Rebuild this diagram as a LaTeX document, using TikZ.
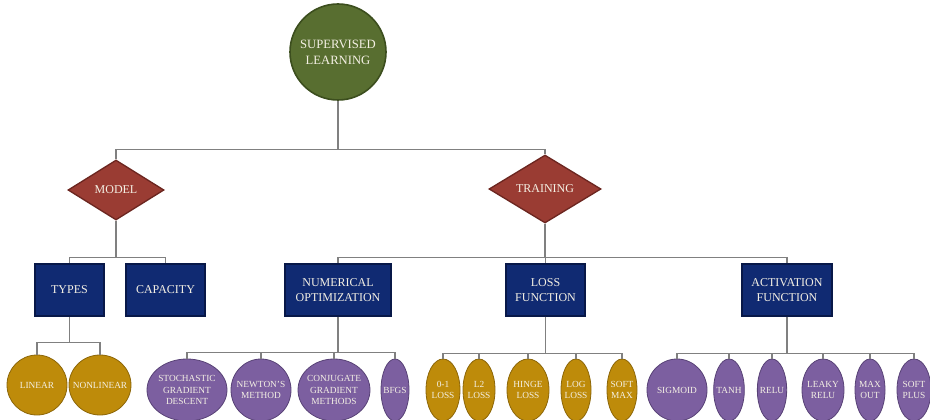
\documentclass[tikz,border=0pt]{standalone}
\usepackage{fontspec}
\setmainfont{Liberation Serif}
\usepackage{xcolor}
\usepackage{tikz}
\usetikzlibrary{shapes.geometric}

\definecolor{olive}{RGB}{88,110,48}
\definecolor{oliveedge}{RGB}{60,78,30}
\definecolor{brick}{RGB}{154,60,51}
\definecolor{brickedge}{RGB}{108,38,32}
\definecolor{navy}{RGB}{16,42,114}
\definecolor{navyedge}{RGB}{8,24,72}
\definecolor{gold}{RGB}{190,139,10}
\definecolor{goldedge}{RGB}{140,102,8}
\definecolor{lilac}{RGB}{124,95,160}
\definecolor{lilacedge}{RGB}{88,66,118}
\definecolor{ink}{RGB}{244,240,228}
\definecolor{wire}{RGB}{128,128,128}

\begin{document}
\begin{tikzpicture}[x=0.75pt, y=-0.75pt,
  root/.style={circle, draw=oliveedge, line width=1.2pt, fill=olive, text=ink,
               align=center, font=\fontsize{9.5}{12}\selectfont,
               minimum size=72pt, inner sep=0pt},
  dec/.style={diamond, draw=brickedge, line width=1pt, fill=brick, text=ink,
              align=center, font=\fontsize{9}{11}\selectfont, inner sep=0pt},
  box/.style={draw=navyedge, line width=1.2pt, fill=navy, text=ink,
              align=center, font=\fontsize{9}{11.5}\selectfont,
              minimum height=39pt, inner sep=1pt},
  leaf/.style={ellipse, line width=0.6pt, text=ink, align=center,
               font=\fontsize{7}{8.8}\selectfont, inner xsep=-4pt,
               inner ysep=0pt},
  gleaf/.style={leaf, draw=goldedge, fill=gold},
  pleaf/.style={leaf, draw=lilacedge, fill=lilac},
  link/.style={draw=wire, line width=0.8pt}
]
\path[use as bounding box] (0,0) rectangle (930,420);

% top levels
\node[root] (sl) at (338,52) {SUPERVISED\\LEARNING};
\node[dec, minimum width=72pt, minimum height=45pt] (model) at (116,190) {MODEL};
\node[dec, minimum width=84pt, minimum height=51pt] (train) at (545,189) {TRAINING};

\node[box, minimum width=52pt] (types) at (69.5,290) {TYPES};
\node[box, minimum width=59pt] (capac) at (165.5,290) {CAPACITY};
\node[box, minimum width=79.5pt] (numopt) at (338,290) {NUMERICAL\\OPTIMIZATION};
\node[box, minimum width=59pt] (lossfn) at (545.5,290) {LOSS\\FUNCTION};
\node[box, minimum width=67.5pt] (actfn) at (787,290) {ACTIVATION\\FUNCTION};

% leaves
\node[gleaf, minimum width=45pt, minimum height=45pt] (lin) at (37,385) {LINEAR};
\node[gleaf, minimum width=46.5pt, minimum height=45pt] (nonlin) at (100,385) {NONLINEAR};

\node[pleaf, minimum width=60pt, minimum height=46.5pt] (sgd) at (187,390) {STOCHASTIC\\GRADIENT\\DESCENT};
\node[pleaf, minimum width=45pt, minimum height=46.5pt] (newton) at (261,390) {NEWTON'S\\METHOD};
\node[pleaf, minimum width=54pt, minimum height=46.5pt] (cg) at (334,390) {CONJUGATE\\GRADIENT\\METHODS};
\node[pleaf, minimum width=21pt, minimum height=46.5pt] (bfgs) at (395,390) {BFGS};

\node[gleaf, minimum width=25.5pt, minimum height=46.5pt] (zol) at (443,390) {0-1\\LOSS};
\node[gleaf, minimum width=24pt, minimum height=46.5pt] (ltwo) at (479,390) {L2\\LOSS};
\node[gleaf, minimum width=31.5pt, minimum height=46.5pt] (hinge) at (528,390) {HINGE\\LOSS};
\node[gleaf, minimum width=22.5pt, minimum height=46.5pt] (logl) at (576,390) {LOG\\LOSS};
\node[gleaf, minimum width=22.5pt, minimum height=46.5pt] (smax) at (622,390) {SOFT\\MAX};

\node[pleaf, minimum width=45pt, minimum height=46.5pt] (sigm) at (677,390) {SIGMOID};
\node[pleaf, minimum width=23pt, minimum height=46.5pt] (tanh) at (729,390) {TANH};
\node[pleaf, minimum width=22pt, minimum height=46.5pt] (relu) at (772,390) {RELU};
\node[pleaf, minimum width=31.5pt, minimum height=46.5pt] (lrelu) at (823,390) {LEAKY\\RELU};
\node[pleaf, minimum width=22.5pt, minimum height=46.5pt] (maxo) at (870,390) {MAX\\OUT};
\node[pleaf, minimum width=25.5pt, minimum height=46.5pt] (splus) at (914,390) {SOFT\\PLUS};

% connectors
\draw[link] (sl.south) -- ++(0,49) -| (model.north);
\draw[link] (sl.south) -- ++(0,49) -| (train.north);
\draw[link] (model.south) -- ++(0,37) -| (types.north);
\draw[link] (model.south) -- ++(0,37) -| (capac.north);
\foreach \n in {numopt,lossfn,actfn}
  \draw[link] (train.south) -- ++(0,34) -| (\n.north);
\foreach \n in {lin,nonlin}
  \draw[link] (types.south) -- ++(0,26) -| (\n.north);
\foreach \n in {sgd,newton,cg,bfgs}
  \draw[link] (numopt.south) -- ++(0,36) -| (\n.north);
\foreach \n in {zol,ltwo,hinge,logl,smax}
  \draw[link] (lossfn.south) -- ++(0,37) -| (\n.north);
\foreach \n in {sigm,tanh,relu,lrelu,maxo,splus}
  \draw[link] (actfn.south) -- ++(0,37) -| (\n.north);
\end{tikzpicture}
\end{document}
